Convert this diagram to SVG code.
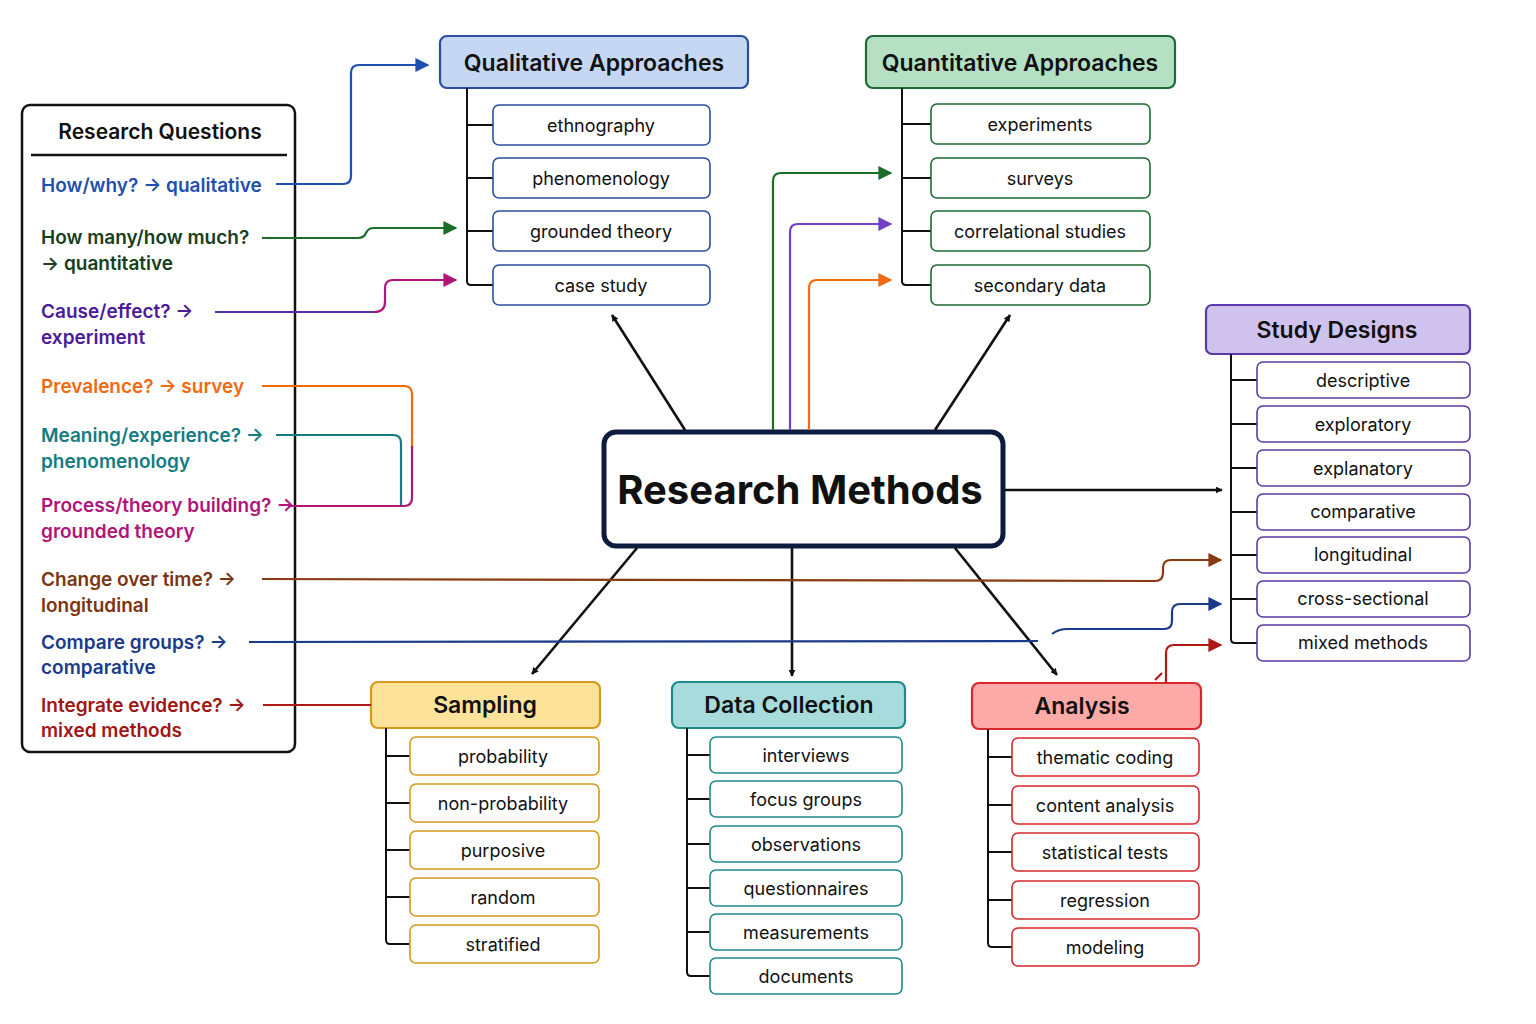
<svg xmlns="http://www.w3.org/2000/svg" width="1536" height="1024" viewBox="0 0 1536 1024">
<defs>
<style>
text{font-family:Inter,"Noto Sans","Liberation Sans",sans-serif}
.ch{fill:#fff;stroke-width:1.6}
.ct{font-size:18px;fill:#111;text-anchor:middle}
.ht{font-size:23px;font-weight:600;fill:#111;text-anchor:middle}
.q{font-size:19px;font-weight:600}
.sp{fill:none;stroke:#111;stroke-width:2}
.cn{fill:none;stroke-width:2.2}
</style>
<marker id="ak" viewBox="0 0 10 10" refX="9" refY="5" markerWidth="7" markerHeight="7" orient="auto-start-reverse" markerUnits="userSpaceOnUse"><path d="M0,0L10,5L0,10z" fill="#111"/></marker>
<marker id="ab" viewBox="0 0 10 10" refX="9" refY="5" markerWidth="14" markerHeight="14" markerUnits="userSpaceOnUse" orient="auto"><path d="M0,0L10,5L0,10z" fill="#1f4fb0"/></marker>
<marker id="ag" viewBox="0 0 10 10" refX="9" refY="5" markerWidth="14" markerHeight="14" markerUnits="userSpaceOnUse" orient="auto"><path d="M0,0L10,5L0,10z" fill="#1b6e2a"/></marker>
<marker id="am" viewBox="0 0 10 10" refX="9" refY="5" markerWidth="14" markerHeight="14" markerUnits="userSpaceOnUse" orient="auto"><path d="M0,0L10,5L0,10z" fill="#b0157a"/></marker>
<marker id="ap" viewBox="0 0 10 10" refX="9" refY="5" markerWidth="14" markerHeight="14" markerUnits="userSpaceOnUse" orient="auto"><path d="M0,0L10,5L0,10z" fill="#7040c8"/></marker>
<marker id="ao" viewBox="0 0 10 10" refX="9" refY="5" markerWidth="14" markerHeight="14" markerUnits="userSpaceOnUse" orient="auto"><path d="M0,0L10,5L0,10z" fill="#f26a10"/></marker>
<marker id="abr" viewBox="0 0 10 10" refX="9" refY="5" markerWidth="14" markerHeight="14" markerUnits="userSpaceOnUse" orient="auto"><path d="M0,0L10,5L0,10z" fill="#8a3a12"/></marker>
<marker id="an" viewBox="0 0 10 10" refX="9" refY="5" markerWidth="14" markerHeight="14" markerUnits="userSpaceOnUse" orient="auto"><path d="M0,0L10,5L0,10z" fill="#1a3a8a"/></marker>
<marker id="ar" viewBox="0 0 10 10" refX="9" refY="5" markerWidth="14" markerHeight="14" markerUnits="userSpaceOnUse" orient="auto"><path d="M0,0L10,5L0,10z" fill="#b01818"/></marker>
</defs>
<rect width="1536" height="1024" fill="#fff"/>

<g id="research-questions">
<rect x="22" y="105" width="273" height="647" rx="8" fill="#fff" stroke="#111" stroke-width="2.5"/>
<text x="160" y="139" class="ht" style="font-size:21px">Research Questions</text>
<line x1="31" y1="155" x2="287" y2="155" stroke="#111" stroke-width="2.5"/>
<text x="41" y="192" class="q" fill="#1f4fb0">How/why? → qualitative</text>
<text x="41" y="244" class="q" fill="#16401c">How many/how much?</text>
<text x="41" y="270" class="q" fill="#16401c">→ quantitative</text>
<text x="41" y="318" class="q" fill="#4a1c9a">Cause/effect? →</text>
<text x="41" y="344" class="q" fill="#4a1c9a">experiment</text>
<text x="41" y="393" class="q" fill="#f26a10">Prevalence? → survey</text>
<text x="41" y="442" class="q" fill="#137c80">Meaning/experience? →</text>
<text x="41" y="468" class="q" fill="#137c80">phenomenology</text>
<text x="41" y="512" class="q" fill="#b0157a">Process/theory building? →</text>
<text x="41" y="538" class="q" fill="#b0157a">grounded theory</text>
<text x="41" y="586" class="q" fill="#7a3510">Change over time?  →</text>
<text x="41" y="612" class="q" fill="#7a3510">longitudinal</text>
<text x="41" y="649" class="q" fill="#1a3a8a">Compare groups? →</text>
<text x="41" y="674" class="q" fill="#1a3a8a">comparative</text>
<text x="41" y="712" class="q" fill="#a01515">Integrate evidence? →</text>
<text x="41" y="737" class="q" fill="#a01515">mixed methods</text>
</g>

<g id="qualitative">
<rect x="440" y="36" width="308" height="52" rx="7" fill="#c5d7f2" stroke="#2a4fa0" stroke-width="2.2"/>
<text x="594" y="71" class="ht">Qualitative Approaches</text>
<path class="sp" d="M467 88V281q0 4 4 4H493M467 125H493M467 178H493M467 231H493"/>
<g stroke="#2a4fa0"><rect class="ch" x="493" y="105" width="217" height="40" rx="6"/><rect class="ch" x="493" y="158" width="217" height="40" rx="6"/><rect class="ch" x="493" y="211" width="217" height="40" rx="6"/><rect class="ch" x="493" y="265" width="217" height="40" rx="6"/></g>
<text x="601" y="132" class="ct">ethnography</text><text x="601" y="185" class="ct">phenomenology</text><text x="601" y="238" class="ct">grounded theory</text><text x="601" y="292" class="ct">case study</text>
</g>

<g id="quantitative">
<rect x="866" y="36" width="309" height="52" rx="7" fill="#b5e0c3" stroke="#1e6b35" stroke-width="2.2"/>
<text x="1020" y="71" class="ht">Quantitative Approaches</text>
<path class="sp" d="M902 88V281q0 4 4 4H931M902 124H931M902 178H931M902 231H931"/>
<g stroke="#1e6b35"><rect class="ch" x="931" y="104" width="219" height="40" rx="6"/><rect class="ch" x="931" y="158" width="219" height="40" rx="6"/><rect class="ch" x="931" y="211" width="219" height="40" rx="6"/><rect class="ch" x="931" y="265" width="219" height="40" rx="6"/></g>
<text x="1040" y="131" class="ct">experiments</text><text x="1040" y="185" class="ct">surveys</text><text x="1040" y="238" class="ct">correlational studies</text><text x="1040" y="292" class="ct">secondary data</text>
</g>

<g id="study-designs">
<rect x="1206" y="305" width="264" height="49" rx="6" fill="#cfc3ee" stroke="#5a3aa8" stroke-width="2.2"/>
<text x="1337" y="338" class="ht">Study Designs</text>
<path class="sp" d="M1231 354V639q0 4 4 4H1257M1231 380H1257M1231 424H1257M1231 468H1257M1231 512H1257M1231 555H1257M1231 599H1257"/>
<g stroke="#5a3aa8"><rect class="ch" x="1257" y="362" width="213" height="36" rx="6"/><rect class="ch" x="1257" y="406" width="213" height="36" rx="6"/><rect class="ch" x="1257" y="450" width="213" height="36" rx="6"/><rect class="ch" x="1257" y="494" width="213" height="36" rx="6"/><rect class="ch" x="1257" y="537" width="213" height="36" rx="6"/><rect class="ch" x="1257" y="581" width="213" height="36" rx="6"/><rect class="ch" x="1257" y="625" width="213" height="36" rx="6"/></g>
<text x="1363" y="387" class="ct">descriptive</text><text x="1363" y="431" class="ct">exploratory</text><text x="1363" y="475" class="ct">explanatory</text><text x="1363" y="518" class="ct">comparative</text><text x="1363" y="561" class="ct">longitudinal</text><text x="1363" y="605" class="ct">cross-sectional</text><text x="1363" y="649" class="ct">mixed methods</text>
</g>

<g id="research-methods">
<rect x="604" y="432" width="399" height="114" rx="12" fill="#fff" stroke="#0d1b3e" stroke-width="5"/>
<text x="800" y="504" style="font-size:40px;font-weight:700" fill="#111" text-anchor="middle">Research Methods</text>
</g>

<g id="sampling">
<rect x="371" y="682" width="229" height="46" rx="7" fill="#fde29a" stroke="#d49a1a" stroke-width="2.2"/>
<text x="485" y="713" class="ht">Sampling</text>
<path class="sp" d="M386 728V940q0 4 4 4H410M386 756H410M386 803H410M386 850H410M386 897H410"/>
<g stroke="#d49a1a"><rect class="ch" x="410" y="737" width="189" height="38" rx="6"/><rect class="ch" x="410" y="784" width="189" height="38" rx="6"/><rect class="ch" x="410" y="831" width="189" height="38" rx="6"/><rect class="ch" x="410" y="878" width="189" height="38" rx="6"/><rect class="ch" x="410" y="925" width="189" height="38" rx="6"/></g>
<text x="503" y="763" class="ct">probability</text><text x="503" y="810" class="ct">non-probability</text><text x="503" y="857" class="ct">purposive</text><text x="503" y="904" class="ct">random</text><text x="503" y="951" class="ct">stratified</text>
</g>

<g id="data-collection">
<rect x="672" y="682" width="233" height="46" rx="7" fill="#a8dcdc" stroke="#1f8a8a" stroke-width="2.2"/>
<text x="789" y="713" class="ht">Data Collection</text>
<path class="sp" d="M687 728V972q0 4 4 4H710M687 755H710M687 799H710M687 844H710M687 888H710M687 932H710"/>
<g stroke="#1f8a8a"><rect class="ch" x="710" y="737" width="192" height="36" rx="6"/><rect class="ch" x="710" y="781" width="192" height="36" rx="6"/><rect class="ch" x="710" y="826" width="192" height="36" rx="6"/><rect class="ch" x="710" y="870" width="192" height="36" rx="6"/><rect class="ch" x="710" y="914" width="192" height="36" rx="6"/><rect class="ch" x="710" y="958" width="192" height="36" rx="6"/></g>
<text x="806" y="762" class="ct">interviews</text><text x="806" y="806" class="ct">focus groups</text><text x="806" y="851" class="ct">observations</text><text x="806" y="895" class="ct">questionnaires</text><text x="806" y="939" class="ct">measurements</text><text x="806" y="983" class="ct">documents</text>
</g>

<g id="analysis">
<rect x="972" y="683" width="229" height="46" rx="7" fill="#fbaaa8" stroke="#d8262a" stroke-width="2.2"/>
<text x="1082" y="714" class="ht">Analysis</text>
<path class="sp" d="M988 729V943q0 4 4 4H1012M988 757H1012M988 805H1012M988 852H1012M988 900H1012"/>
<g stroke="#d8262a"><rect class="ch" x="1012" y="738" width="187" height="38" rx="6"/><rect class="ch" x="1012" y="786" width="187" height="38" rx="6"/><rect class="ch" x="1012" y="833" width="187" height="38" rx="6"/><rect class="ch" x="1012" y="881" width="187" height="38" rx="6"/><rect class="ch" x="1012" y="928" width="187" height="38" rx="6"/></g>
<text x="1105" y="764" class="ct">thematic coding</text><text x="1105" y="812" class="ct">content analysis</text><text x="1105" y="859" class="ct">statistical tests</text><text x="1105" y="907" class="ct">regression</text><text x="1105" y="954" class="ct">modeling</text>
</g>

<g id="connectors">
<g stroke="#111" stroke-width="2.6" fill="none">
<path d="M685 430L612 315" marker-end="url(#ak)"/>
<path d="M935 430L1010 315" marker-end="url(#ak)"/>
<path d="M1005 490H1222" marker-end="url(#ak)"/>
<path d="M637 548L532 674" marker-end="url(#ak)"/>
<path d="M792 548V676" marker-end="url(#ak)"/>
<path d="M955 548L1057 675" marker-end="url(#ak)"/>
</g>
<path class="cn" stroke="#1f4fb0" d="M276 184H343q8 0 8-8V73q0-8 8-8H428" marker-end="url(#ab)"/>
<path class="cn" stroke="#1b6e2a" d="M262 238H358q6 0 8-5q2-5 8-5H456" marker-end="url(#ag)"/>
<path class="cn" stroke="#5b2aa8" d="M215 312H375"/>
<path class="cn" stroke="#b0157a" d="M374 312q11 0 11-10V288q0-8 8-8H456" marker-end="url(#am)"/>
<path class="cn" stroke="#f26a10" d="M262 386H404q8 0 8 8V448"/>
<path class="cn" stroke="#137c80" d="M276 435H393q8 0 8 8V506"/>
<path class="cn" stroke="#b0157a" d="M288 506H404q8 0 8-8V446"/>
<path class="cn" stroke="#1b6e2a" d="M773 430V181q0-8 8-8H891" marker-end="url(#ag)"/>
<path class="cn" stroke="#7040c8" d="M790 430V232q0-8 8-8H891" marker-end="url(#ap)"/>
<path class="cn" stroke="#f26a10" d="M809 430V288q0-8 8-8H891" marker-end="url(#ao)"/>
<path class="cn" stroke="#8a3a12" d="M262 579L1155 581q8 0 8-8V568q0-8 8-8H1221" marker-end="url(#abr)"/>
<path class="cn" stroke="#1a3a8a" d="M249 642L1038 641"/>
<path class="cn" stroke="#1a3a8a" d="M1052 634q6-5 16-5H1164q8 0 8-8V612q0-8 8-8H1221" marker-end="url(#an)"/>
<path class="cn" stroke="#b01818" d="M263 705H371"/>
<path class="cn" stroke="#b01818" d="M1166 683V653q0-8 8-8H1221" marker-end="url(#ar)"/>
<path class="cn" stroke="#b01818" d="M1155 680L1162 673"/>
</g>
</svg>
